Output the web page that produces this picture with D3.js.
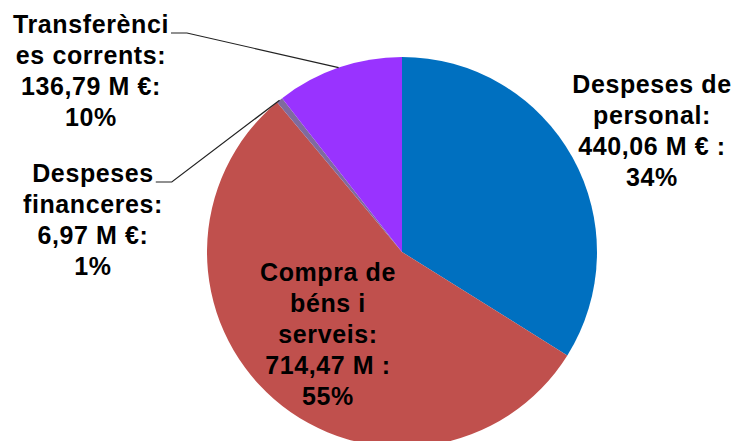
<!DOCTYPE html>
<html>
<head>
<meta charset="utf-8">
<script src="https://cdn.jsdelivr.net/npm/d3@7"></script>
<style>
  html, body { margin: 0; padding: 0; background: #fff; }
  svg { display: block; }
</style>
</head>
<body>
<div class="visual"></div>
<script>
const categories = ["Despeses de personal", "Compra de béns i serveis", "Despeses financeres", "Transferències corrents"];
const values = [440.06, 714.47, 6.97, 136.79];
const pctLabels = ["34%", "55%", "1%", "10%"];
const colors = ["#0070C0", "#C0504D", "#7F6B9E", "#9933FF"];
const labelLines = [
  ["Despeses de", "personal:", "440,06 M € :", "34%"],
  ["Compra de", "béns i", "serveis:", "714,47 M :", "55%"],
  ["Despeses", "financeres:", "6,97 M €:", "1%"],
  ["Transferènci", "es corrents:", "136,79 M €:", "10%"]
];

const width = 736, height = 441;
const cx = 402, cy = 252, radius = 195;
const lineH = 31;

// where each label block sits: centre x, first baseline y, and whether it has a leader
const labelPos = [
  { x: 652, y: 93, leader: false },
  { x: 328, y: 281, leader: false },
  { x: 93, y: 182, leader: true },
  { x: 91, y: 33, leader: true }
];

function display() {
  const svg = d3.select(".visual")
    .append("svg")
    .attr("width", width)
    .attr("height", height);

  const pie = d3.pie().sort(null).value(d => d);
  const arcs = pie(values);
  const arc = d3.arc().innerRadius(0).outerRadius(radius);

  const g = svg.append("g")
    .attr("transform", `translate(${cx},${cy})`);

  g.selectAll("path")
    .data(arcs)
    .enter()
    .append("path")
    .attr("d", arc)
    .attr("fill", (d, i) => colors[i]);

  const labels = svg.append("g")
    .style("font-family", "'Liberation Sans', Arial, sans-serif")
    .style("font-weight", "bold")
    .style("font-size", "25px")
    .style("letter-spacing", "0.6px")
    .style("fill", "#000");

  labelLines.forEach((lines, i) => {
    const pos = labelPos[i];
    const t = labels.append("text")
      .attr("text-anchor", "middle");
    lines.forEach((ln, j) => {
      t.append("tspan")
        .attr("x", pos.x)
        .attr("y", pos.y + j * lineH)
        .text(ln);
    });

    if (pos.leader) {
      // first line's right edge, then a short horizontal tick, then to the slice edge
      const w = t.select("tspan").node().getComputedTextLength();
      const x0 = pos.x + w / 2 + 2;
      const y0 = pos.y;
      const a = (arcs[i].startAngle + arcs[i].endAngle) / 2;
      const ex = cx + radius * Math.sin(a);
      const ey = cy - radius * Math.cos(a);
      svg.append("path")
        .attr("d", `M${x0},${y0}H${x0 + 16}L${ex},${ey}`)
        .attr("fill", "none")
        .attr("stroke", "#222")
        .attr("stroke-width", 1.2);
    }
  });
}

window.onload = function() {
  display();
};
</script>
</body>
</html>
